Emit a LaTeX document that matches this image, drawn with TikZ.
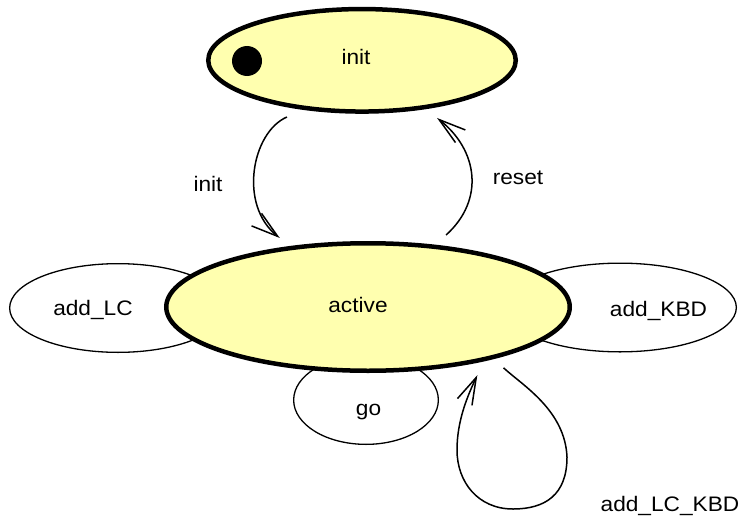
\documentclass[tikz,border=0pt]{standalone}
\usepackage{fontspec}
\setmainfont{Liberation Sans}[FakeStretch=1.08]
\usetikzlibrary{arrows.meta,shapes.geometric}
\definecolor{statefill}{RGB}{255,255,175}
\begin{document}
\begin{tikzpicture}[x=1pt,y=-1pt,
  font=\fontsize{21}{25}\selectfont,
  mainstate/.style={ellipse, draw=black, line width=4.5pt, fill=statefill,
    inner sep=0pt, outer sep=2.25pt},
  substate/.style={ellipse, draw=black, line width=1.3pt, fill=white,
    inner sep=0pt, outer sep=0.65pt},
  txt/.style={anchor=base, inner sep=0pt},
  trans/.style={line width=1.5pt, line join=round,
    -{Straight Barb[length=27pt,width=16pt]}},
]
\useasboundingbox (0,0) rectangle (743,519);

% sub-states sitting behind the active state
\node[substate, minimum width=216.7pt, minimum height=88.7pt] (addlc)  at (118,308)   {};
\node[substate, minimum width=232.7pt, minimum height=88.7pt] (addkbd) at (620,307.5) {};
\node[substate, minimum width=144.7pt, minimum height=88.7pt] (go)     at (366,400)   {};

% main states
\node[mainstate, minimum width=403.5pt, minimum height=127.5pt] (active) at (368,307) {};
\node[mainstate, minimum width=307.5pt, minimum height=102.5pt] (init)   at (362,60.3) {};
\node[circle, fill=black, minimum size=30pt, inner sep=0pt] (initdot) at (247,61) {};

% state names
\node[txt] (initname)   at (356,64)    {init};
\node[txt] (activename) at (358,312)   {active};
\node[txt] (lcname)     at (93,315)    {add\_LC};
\node[txt] (kbdname)    at (658.5,316) {add\_KBD};
\node[txt] (goname)     at (368.5,415) {go};

% transition labels
\node[txt] (initlbl)  at (208,191) {init};
\node[txt] (resetlbl) at (518,184) {reset};
\node[txt] (looplbl)  at (670,511) {add\_LC\_KBD};

% transitions
\draw[trans] ([shift={(0,9.8)}]init.212)
  .. controls (252,132) and (238,205) .. ([shift={(0,-9.5)}]active.146);
\draw[trans] ([shift={(0,-11)}]active.38)
  .. controls (485,200) and (478,150) .. ([shift={(0,10.8)}]init.-32);
\draw[trans] ([shift={(0,11.5)}]active.-20)
  .. controls (522,385) and (565,410) .. (567,457)
  .. controls (567,495) and (545,509) .. (513,509)
  .. controls (478,509) and (457,482) .. (457,450)
  .. controls (457,420) and (468,395) .. ([shift={(0,12.4)}]active.-27);
\end{tikzpicture}
\end{document}
